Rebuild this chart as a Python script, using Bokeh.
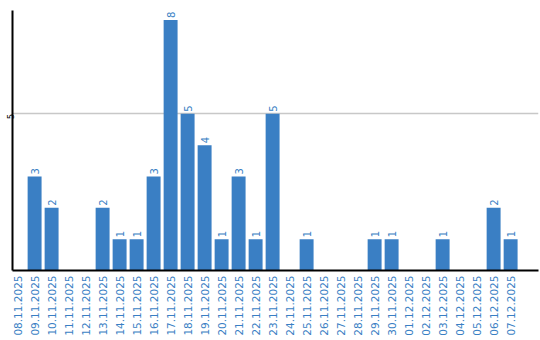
from math import pi
from bokeh.plotting import figure
from bokeh.models import ColumnDataSource, FixedTicker, Range1d
from bokeh.core.properties import value
from bokeh.embed import file_html
from bokeh.resources import INLINE

dates = ["08.11.2025", "09.11.2025", "10.11.2025", "11.11.2025", "12.11.2025",
         "13.11.2025", "14.11.2025", "15.11.2025", "16.11.2025", "17.11.2025",
         "18.11.2025", "19.11.2025", "20.11.2025", "21.11.2025", "22.11.2025",
         "23.11.2025", "24.11.2025", "25.11.2025", "26.11.2025", "27.11.2025",
         "28.11.2025", "29.11.2025", "30.11.2025", "01.12.2025", "02.12.2025",
         "03.12.2025", "04.12.2025", "05.12.2025", "06.12.2025", "07.12.2025"]
counts = [0, 3, 2, 0, 0, 2, 1, 1, 3, 8, 5, 4, 1, 3, 1, 5, 0, 1, 0, 0,
          0, 1, 1, 0, 0, 1, 0, 0, 2, 1]
y_ticks = [5]

BLUE = "#3a7fc4"
FONT = "DejaVu Sans"

xs = list(range(len(dates)))
src = ColumnDataSource(dict(x=xs, top=counts))
lab_idx = [i for i, c in enumerate(counts) if c > 0]
lab_src = ColumnDataSource(dict(x=[xs[i] for i in lab_idx],
                                y=[counts[i] for i in lab_idx],
                                t=[str(counts[i]) for i in lab_idx]))

p = figure(width=540, height=340, output_backend="svg", toolbar_location=None,
           x_range=Range1d(-0.3, 30.64), y_range=Range1d(0, 8.3),
           min_border_left=0, min_border_right=2, min_border_top=10,
           min_border_bottom=70)
p.outline_line_color = None
p.background_fill_color = "white"
p.border_fill_color = "white"

p.vbar(x="x", top="top", width=0.82, bottom=0, source=src,
       fill_color=BLUE, line_color=None)

p.text(x="x", y="y", text="t", source=lab_src, angle=pi / 2,
       text_align="left", text_baseline="middle", y_offset=-2,
       text_font=value(FONT), text_font_size="10px", text_color=BLUE)

p.xgrid.visible = False
p.ygrid.ticker = FixedTicker(ticks=y_ticks)
p.ygrid.grid_line_color = "#c8c8c8"
p.ygrid.grid_line_width = 1.5

p.xaxis.ticker = FixedTicker(ticks=xs)
p.xaxis.major_label_overrides = {i: d for i, d in enumerate(dates)}
p.xaxis.major_label_orientation = pi / 2
p.xaxis.major_label_text_font = FONT
p.xaxis.major_label_text_font_size = "10.5px"
p.xaxis.major_label_text_color = BLUE
p.xaxis.major_tick_line_color = None
p.xaxis.minor_tick_line_color = None
p.xaxis.major_tick_out = 0
p.xaxis.major_tick_in = 0
p.xaxis.axis_line_color = "black"
p.xaxis.axis_line_width = 2
p.xaxis.major_label_standoff = 5

p.yaxis.ticker = FixedTicker(ticks=y_ticks)
p.yaxis.major_label_orientation = pi / 2
p.yaxis.major_label_text_font = FONT
p.yaxis.major_label_text_font_size = "8px"
p.yaxis.major_label_text_color = "black"
p.yaxis.major_tick_line_color = None
p.yaxis.minor_tick_line_color = None
p.yaxis.major_tick_out = 0
p.yaxis.major_tick_in = 0
p.yaxis.axis_line_color = "black"
p.yaxis.axis_line_width = 2
p.yaxis.major_label_standoff = 2

open("out.html", "w").write(file_html(p, INLINE))
